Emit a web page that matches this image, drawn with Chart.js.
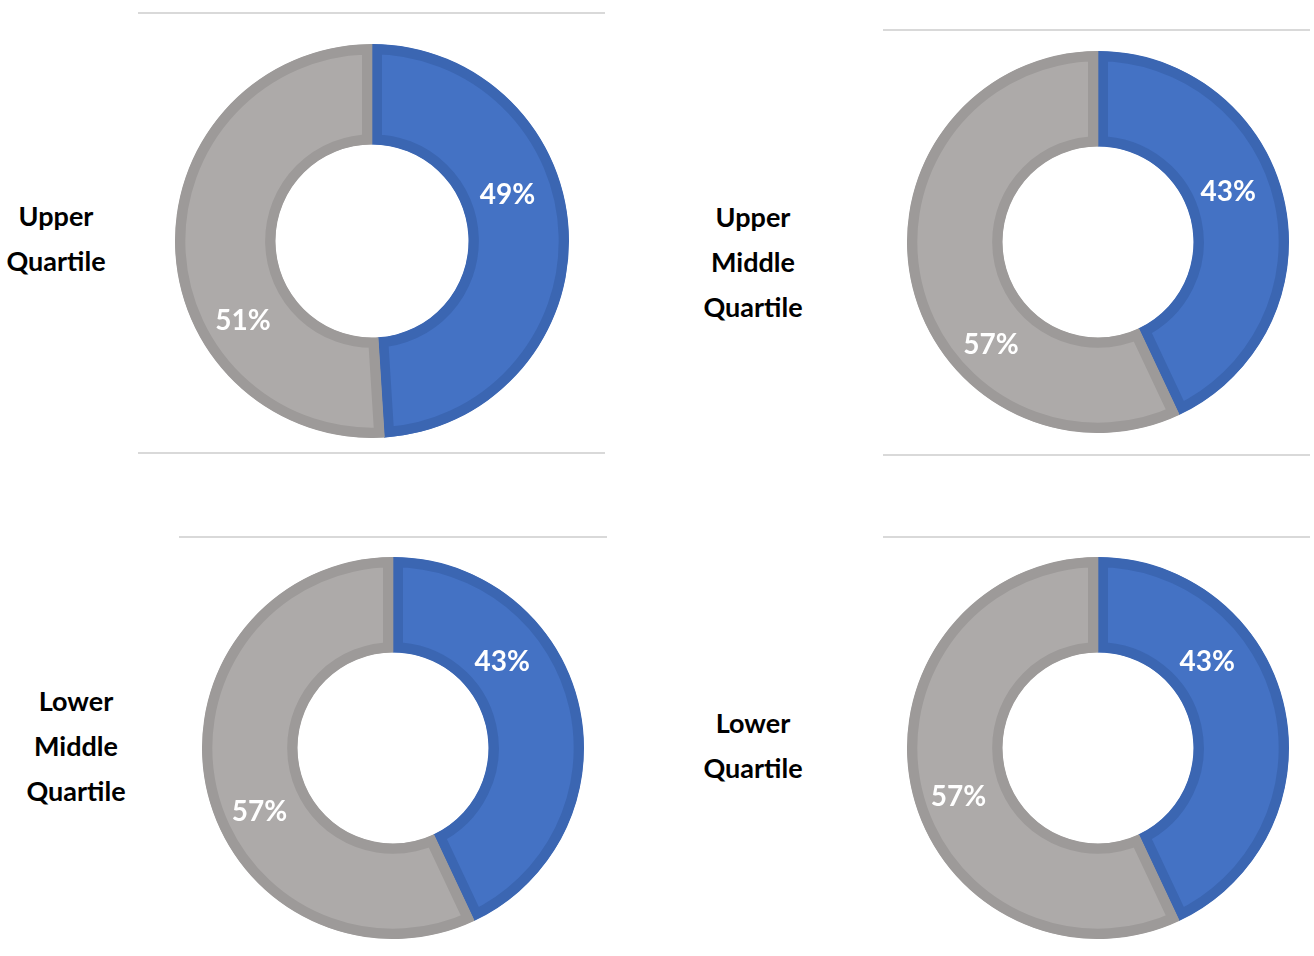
<!DOCTYPE html>
<html>
<head>
<meta charset="utf-8">
<script src="https://cdn.jsdelivr.net/npm/chart.js@4.4.1/dist/chart.umd.min.js"></script>
<style>
  body { margin: 0; width: 1314px; height: 956px; background: #fff; position: relative; overflow: hidden; font-family: Lato, "Open Sans", sans-serif; }
  .rule { position: absolute; height: 2px; background: #d9d9d9; }
  .name { position: absolute; font-weight: bold; font-size: 27px; line-height: 45px; text-align: center; color: #000; transform: translate(-50%, -50%); white-space: nowrap; }
  canvas { position: absolute; }
</style>
</head>
<body>
<script>
// data
const quartiles = ['Upper Quartile', 'Upper Middle Quartile', 'Lower Middle Quartile', 'Lower Quartile']
const slices = ['Series 1', 'Series 2']
const blueShare = [49, 43, 43, 43]
const greyShare = [51, 57, 57, 57]

// layout for each panel (position only, no data)
const panels = [
  { left: 175, top: 44, size: 394, cutout: '49%', nameX: 56, nameY: 238, at: [0.40, 0.34],
    rules: [[138, 12, 467], [138, 452, 467]] },
  { left: 907, top: 51, size: 382, cutout: '50%', nameX: 753, nameY: 261, at: [0.44, 0.35],
    rules: [[883, 29, 427], [883, 454, 427]] },
  { left: 202, top: 557, size: 382, cutout: '50%', nameX: 76, nameY: 745, at: [0.33, 0.44],
    rules: [[179, 536, 428]] },
  { left: 907, top: 557, size: 382, cutout: '50%', nameX: 753, nameY: 745, at: [0.33, 0.47],
    rules: [[883, 536, 427]] }
]
// radial nudge of the % label, blue then grey
const labelShift = [-3, 4]

// white % labels inside each slice
const sliceLabels = {
  id: 'sliceLabels',
  afterDatasetsDraw(chart, args, opts) {
    const ctx = chart.ctx
    const meta = chart.getDatasetMeta(0)
    ctx.save()
    ctx.font = 'bold 28px Lato'
    ctx.fillStyle = '#ffffff'
    ctx.textAlign = 'center'
    ctx.textBaseline = 'middle'
    meta.data.forEach((arc, i) => {
      const p = arc.getProps(['x', 'y', 'startAngle', 'endAngle', 'innerRadius', 'outerRadius'], true)
      const a = p.startAngle + opts.at[i] * (p.endAngle - p.startAngle)
      const r = (p.innerRadius + p.outerRadius) / 2 + labelShift[i]
      ctx.fillText(chart.data.datasets[0].data[i] + '%', p.x + Math.cos(a) * r, p.y + Math.sin(a) * r + 2)
    })
    ctx.restore()
  }
}

panels.forEach((panel, k) => {
  panel.rules.forEach(([x, y, w]) => {
    const d = document.createElement('div')
    d.className = 'rule'
    d.style.left = x + 'px'
    d.style.top = y + 'px'
    d.style.width = w + 'px'
    document.body.appendChild(d)
  })

  const name = document.createElement('div')
  name.className = 'name'
  name.style.left = panel.nameX + 'px'
  name.style.top = panel.nameY + 'px'
  name.innerHTML = quartiles[k].split(' ').join('<br>')
  document.body.appendChild(name)

  const canvas = document.createElement('canvas')
  canvas.width = panel.size
  canvas.height = panel.size
  canvas.style.left = panel.left + 'px'
  canvas.style.top = panel.top + 'px'
  document.body.appendChild(canvas)

  new Chart(canvas, {
    type: 'doughnut',
    data: {
      labels: slices,
      datasets: [{
        data: [blueShare[k], greyShare[k]],
        backgroundColor: ['#4472c4', '#adaaa9'],
        borderColor: ['#3b66b2', '#9d9a99'],
        borderWidth: 10,
        borderAlign: 'inner',
        hoverOffset: 0
      }]
    },
    options: {
      responsive: false,
      animation: false,
      cutout: panel.cutout,
      layout: { padding: 0 },
      plugins: {
        legend: { display: false },
        tooltip: { enabled: false },
        sliceLabels: { at: panel.at }
      }
    },
    plugins: [sliceLabels]
  })
})
</script>
</body>
</html>
